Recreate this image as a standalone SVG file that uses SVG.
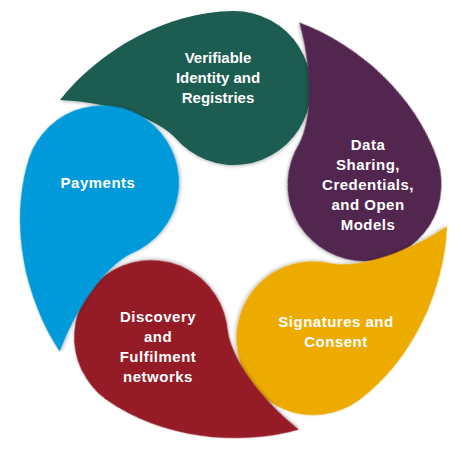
<svg xmlns="http://www.w3.org/2000/svg" xmlns:xlink="http://www.w3.org/1999/xlink" width="462" height="454" viewBox="0 0 462 454">
  <style>
    .lbl { font-family: "Liberation Sans", Arial, sans-serif; font-weight: bold; font-size: 15px; fill: #FFFFFF; text-anchor: middle; }
    .wide { letter-spacing: 0.5px; }
    .drop { filter: url(#sh); }
  </style>
  <defs>
    <filter id="sh" x="-10%" y="-10%" width="120%" height="120%">
      <feDropShadow dx="0.5" dy="1.5" stdDeviation="1.5" flood-color="#000000" flood-opacity="0.25"/>
    </filter>
    <path id="drop" d="M60,100 C100,50 165,12 234,11 A77,77 0 1,1 175,137.5 C160,122 120,103 60,100 Z"/>
  </defs>
  <rect width="462" height="454" fill="#FFFFFF"/>
  <g id="connectors"></g>
  <g id="node-identity">
    <use xlink:href="#drop" class="drop" fill="#1A5C51"/>
    <text class="lbl" x="218" y="63">Verifiable</text>
    <text class="lbl" x="218" y="83">Identity and</text>
    <text class="lbl" x="218" y="103">Registries</text>
  </g>
  <g id="node-data">
    <use xlink:href="#drop" class="drop" fill="#52284F" transform="rotate(72 233 226)"/>
    <text class="lbl wide" x="368" y="150">Data</text>
    <text class="lbl wide" x="368" y="170">Sharing,</text>
    <text class="lbl wide" x="368" y="190">Credentials,</text>
    <text class="lbl wide" x="368" y="210">and Open</text>
    <text class="lbl wide" x="368" y="230">Models</text>
  </g>
  <g id="node-signatures">
    <use xlink:href="#drop" class="drop" fill="#EDAB05" transform="rotate(144 233 226)"/>
    <text class="lbl wide" x="336" y="327">Signatures and</text>
    <text class="lbl wide" x="336" y="347">Consent</text>
  </g>
  <g id="node-discovery">
    <use xlink:href="#drop" class="drop" fill="#951B28" transform="rotate(216 233 226)"/>
    <text class="lbl wide" x="158" y="322">Discovery</text>
    <text class="lbl wide" x="158" y="342">and</text>
    <text class="lbl wide" x="158" y="362">Fulfilment</text>
    <text class="lbl wide" x="158" y="382">networks</text>
  </g>
  <g id="node-payments">
    <use xlink:href="#drop" class="drop" fill="#0399DA" transform="rotate(288 233 226)"/>
    <text class="lbl wide" x="98" y="188">Payments</text>
  </g>
</svg>
